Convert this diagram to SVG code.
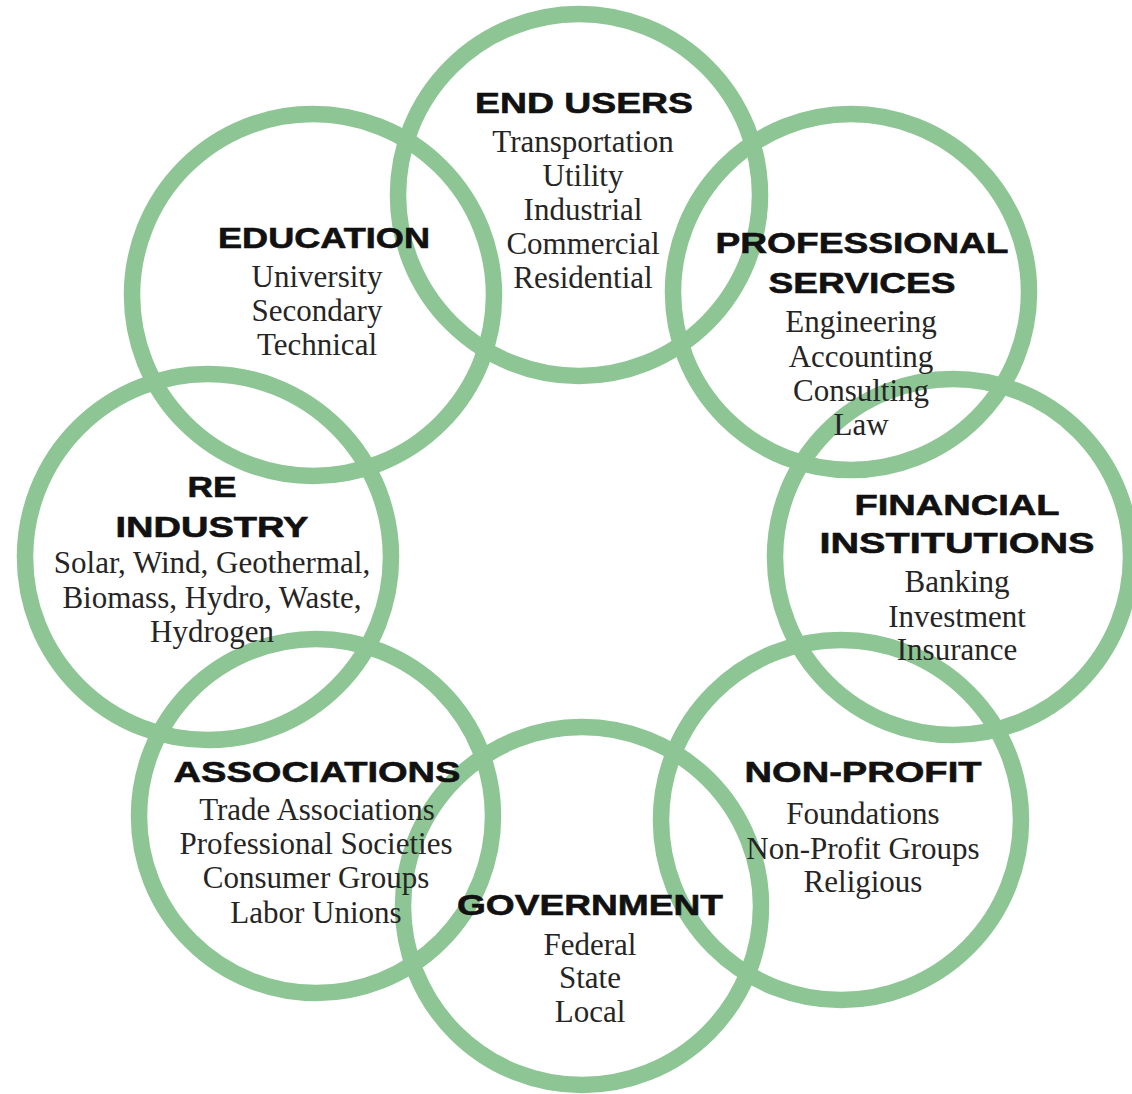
<svg xmlns="http://www.w3.org/2000/svg" width="1132" height="1094" viewBox="0 0 1132 1094">
<style>
.ring{fill:none;stroke:#8DC594;stroke-width:16.5}
.t{font-family:"Liberation Sans",Arial,sans-serif;font-weight:bold;font-size:30px;fill:#111;stroke:#111;stroke-width:0.6;text-anchor:middle}
.b{font-family:"Liberation Serif","Times New Roman",serif;font-size:31px;fill:#252525;text-anchor:middle}
</style>
<rect width="1132" height="1094" fill="#fff"/>
<g id="rings">
<circle id="ring-education" class="ring" cx="313" cy="295" r="181"/>
<circle id="ring-end-users" class="ring" cx="579" cy="195" r="181"/>
<circle id="ring-professional-services" class="ring" cx="851" cy="292" r="178"/>
<circle id="ring-financial-institutions" class="ring" cx="953" cy="557" r="178"/>
<circle id="ring-non-profit" class="ring" cx="841" cy="820" r="180"/>
<circle id="ring-government" class="ring" cx="582" cy="906" r="179"/>
<circle id="ring-associations" class="ring" cx="316" cy="816" r="177"/>
<circle id="ring-re-industry" class="ring" cx="208" cy="557" r="183"/>
</g>
<g id="node-end-users">
<text class="t" x="584" y="113" textLength="218" lengthAdjust="spacingAndGlyphs">END USERS</text>
<text class="b" x="583" y="152">Transportation</text>
<text class="b" x="583" y="186">Utility</text>
<text class="b" x="583" y="220">Industrial</text>
<text class="b" x="583" y="254">Commercial</text>
<text class="b" x="583" y="288">Residential</text>
</g>
<g id="node-education">
<text class="t" x="324" y="248" textLength="212" lengthAdjust="spacingAndGlyphs">EDUCATION</text>
<text class="b" x="317" y="287">University</text>
<text class="b" x="317" y="321">Secondary</text>
<text class="b" x="317" y="355">Technical</text>
</g>
<g id="node-professional-services">
<text class="t" x="862" y="253" textLength="293" lengthAdjust="spacingAndGlyphs">PROFESSIONAL</text>
<text class="t" x="862" y="293" textLength="187" lengthAdjust="spacingAndGlyphs">SERVICES</text>
<text class="b" x="861" y="332">Engineering</text>
<text class="b" x="861" y="367">Accounting</text>
<text class="b" x="861" y="401">Consulting</text>
<text class="b" x="861" y="435">Law</text>
</g>
<g id="node-re-industry">
<text class="t" x="212" y="497" textLength="49" lengthAdjust="spacingAndGlyphs">RE</text>
<text class="t" x="212" y="537" textLength="193" lengthAdjust="spacingAndGlyphs">INDUSTRY</text>
<text class="b" x="212" y="573">Solar, Wind, Geothermal,</text>
<text class="b" x="212" y="608">Biomass, Hydro, Waste,</text>
<text class="b" x="212" y="642">Hydrogen</text>
</g>
<g id="node-financial-institutions">
<text class="t" x="957" y="515" textLength="205" lengthAdjust="spacingAndGlyphs">FINANCIAL</text>
<text class="t" x="957" y="553" textLength="275" lengthAdjust="spacingAndGlyphs">INSTITUTIONS</text>
<text class="b" x="957" y="592">Banking</text>
<text class="b" x="957" y="627">Investment</text>
<text class="b" x="957" y="660">Insurance</text>
</g>
<g id="node-associations">
<text class="t" x="317" y="782" textLength="287" lengthAdjust="spacingAndGlyphs">ASSOCIATIONS</text>
<text class="b" x="317" y="820">Trade Associations</text>
<text class="b" x="316" y="854">Professional Societies</text>
<text class="b" x="316" y="888">Consumer Groups</text>
<text class="b" x="316" y="923">Labor Unions</text>
</g>
<g id="node-non-profit">
<text class="t" x="863" y="782" textLength="237" lengthAdjust="spacingAndGlyphs">NON-PROFIT</text>
<text class="b" x="863" y="824">Foundations</text>
<text class="b" x="863" y="859">Non-Profit Groups</text>
<text class="b" x="863" y="892">Religious</text>
</g>
<g id="node-government">
<text class="t" x="590" y="915" textLength="266" lengthAdjust="spacingAndGlyphs">GOVERNMENT</text>
<text class="b" x="590" y="955">Federal</text>
<text class="b" x="590" y="988">State</text>
<text class="b" x="590" y="1022">Local</text>
</g>
<g id="connectors"></g>
</svg>
